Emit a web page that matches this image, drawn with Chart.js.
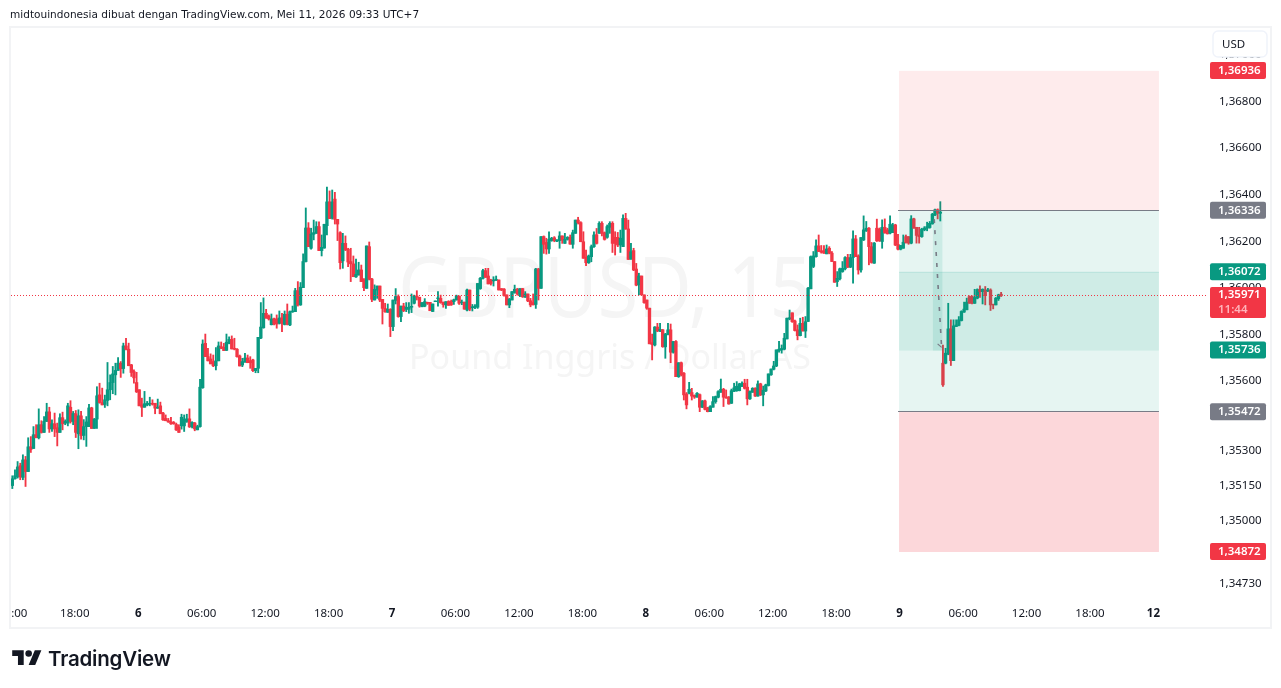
<!DOCTYPE html>
<html><head><meta charset="utf-8">
<script src="https://cdn.jsdelivr.net/npm/chart.js@4/dist/chart.umd.min.js"></script>
<style>
html,body{margin:0;padding:0;background:#fff;width:1281px;height:688px;overflow:hidden}
#panel{position:absolute;left:9px;top:26px;width:1263px;height:603px;box-sizing:border-box;border:2px solid #f2f3f5}
#c{position:absolute;left:0;top:0}
#title{position:absolute;left:10px;top:8px;font:10.55px "DejaVu Sans",sans-serif;color:#131722;white-space:nowrap}
#logo{position:absolute;left:12px;top:647px}
#brand{position:absolute;left:48px;top:646px;font:600 20.5px Inter,sans-serif;color:#131722;letter-spacing:-.2px}
</style></head><body>
<div id="panel"></div>
<canvas id="c" width="1281" height="688"></canvas>
<div id="title">midtouindonesia dibuat dengan TradingView.com, Mei 11, 2026 09:33 UTC+7</div>
<svg id="logo" width="30" height="23" viewBox="0 0 36 28"><path fill="#131722" d="M14 22H7V11H0V4h14v18zM28 22h-8l7.5-18h8L28 22z"/><circle fill="#131722" cx="20" cy="8" r="4"/></svg>
<div id="brand">TradingView</div>
<script>
// Prices in points (1e-5), GBPUSD 15m candles
const opens=[
135157,135186,135194,135242,135192,135267,135217,135323,135316,135375,135362,135418,135385,135432,135473,135400,135422,135405,135385,135448,135425,135425,135493,135432,135465,
135379,135456,135372,135410,135410,135490,135402,135442,135546,135513,135505,135522,135568,135599,135632,135651,135682,135659,135756,135742,135675,135646,135599,135568,135503,
135493,135503,135507,135510,135510,135489,135499,135468,135445,135435,135430,135428,135419,135408,135413,135413,135432,135443,135409,135425,135396,135410,135577,135767,135710,
135700,135689,135671,135692,135753,135750,135737,135767,135784,135746,135742,135713,135674,135686,135704,135693,135696,135650,135660,135790,135834,135896,135885,135847,135872,
135872,135853,135876,135848,135892,135846,135902,135903,135993,135932,136006,136118,136262,136175,136235,136239,136268,136165,136176,136272,136374,136304,136386,136299,136242,
136121,136196,136171,136118,136108,136052,136060,136082,136039,136003,136182,136043,135953,135996,136013,135956,135917,135900,135913,135839,135951,135968,135882,135927,135913,
135913,135922,135939,135970,135965,135924,135927,135943,135943,135904,135946,135959,135960,135944,135932,135947,135947,135946,135953,135970,135942,135944,135910,135996,135920,
135922,135922,136002,136046,136079,136056,136039,136035,136037,136039,136002,136000,135975,135932,135953,135985,135999,135974,136002,135965,135979,135950,135942,135934,136086,
136003,136225,136200,136172,136208,136220,136205,136208,136228,136196,136213,136222,136192,136239,136296,136285,136203,136136,136113,136139,136182,136233,136239,136282,136242,
136222,136265,136282,136222,136222,136189,136182,136303,136258,136129,136165,136086,136018,136056,135975,135953,135918,135770,135760,135837,135820,135825,135752,135806,135825,
135729,135775,135624,135684,135639,135550,135553,135556,135544,135536,135547,135493,135520,135491,135474,135493,135517,135536,135557,135570,135537,135537,135510,135561,135564,
135564,135584,135596,135579,135529,135557,135574,135541,135593,135546,135563,135586,135632,135656,135670,135736,135739,135742,135786,135872,135898,135863,135825,135800,135853,
135820,135861,136001,136097,136139,136185,136164,136164,136151,136175,136154,136118,136032,136044,136075,136087,136135,136094,136135,136215,136142,136082,136211,136250,136261,
136182,136111,136261,136257,136204,136265,136254,136240,136242,136275,136192,136171,136175,136225,136225,136197,136301,136265,136232,136225,136254,136261,136264,136280,136318,
136340,136325,135682,135682,135721,135829,135693,135839,135844,135865,135901,135911,135968,135968,135939,135961,135999,135989,135996,135992,135996,135935,135932,135958,135978];
const closes=[
135186,135199,135237,135194,135267,135217,135323,135312,135375,135362,135418,135385,135432,135473,135400,135422,135400,135385,135448,135422,135432,135499,135432,135466,135385,
135456,135372,135410,135430,135490,135402,135442,135542,135513,135503,135525,135568,135599,135636,135651,135682,135658,135756,135742,135671,135642,135619,135559,135499,135493,
135508,135510,135510,135506,135489,135493,135465,135439,135435,135430,135422,135422,135396,135385,135450,135442,135443,135409,135428,135400,135410,135579,135764,135710,135692,
135679,135671,135692,135756,135746,135736,135772,135784,135743,135742,135710,135670,135689,135704,135684,135684,135650,135660,135793,135837,135896,135875,135872,135872,135850,
135850,135876,135853,135892,135848,135903,135906,135993,135932,136008,136118,136262,136182,136236,136242,136268,136165,136179,136278,136374,136302,136374,136299,136279,136113,
136196,136168,136116,136108,136053,136063,136082,136032,136006,136185,136042,135956,135999,136013,135953,135917,135903,135913,135839,135953,135968,135882,135927,135907,135922,
135922,135926,135970,135966,135927,135942,135946,135939,135907,135936,135949,135962,135942,135933,135946,135930,135932,135954,135970,135939,135944,135914,135996,135914,135924,
135927,136024,136046,136079,136050,136022,136024,136039,136042,135996,135996,135972,135932,135957,135989,135999,135979,136002,135967,135979,135949,135932,135932,136086,136003,
136225,136192,136172,136213,136218,136208,136210,136228,136210,136213,136222,136193,136242,136296,136285,136203,136132,136113,136142,136182,136232,136196,136282,136239,136213,
136268,136282,136196,136196,136189,136218,136303,136258,136127,136160,136082,136017,136056,135975,135942,135918,135765,135762,135837,135820,135827,135753,135807,135825,135729,
135775,135624,135684,135632,135546,135503,135570,135541,135537,135553,135493,135520,135484,135474,135496,135517,135539,135560,135570,135536,135533,135507,135564,135576,135583,
135593,135596,135574,135529,135560,135574,135541,135593,135546,135566,135589,135636,135657,135670,135739,135742,135745,135789,135875,135877,135860,135822,135800,135853,135820,
135860,136004,136139,136142,136185,136161,136158,136154,136172,136154,136118,136029,136046,136087,136089,136135,136094,136135,136215,136139,136082,136221,136254,136261,136182,
136114,136197,136207,136207,136265,136242,136237,136278,136275,136189,136171,136187,136201,136200,136197,136301,136261,136230,136225,136257,136262,136268,136282,136321,136340,
136325,136330,135589,135725,135829,135693,135842,135846,135868,135904,135914,135944,135939,135939,135964,135998,135989,135999,135972,135996,135932,135932,135961,135975,135971];
const highs=[
135199,135224,135260,135253,135289,135282,135362,135367,135410,135418,135486,135435,135453,135510,135493,135439,135468,135425,135465,135472,135439,135510,135521,135475,135479,
135482,135475,135440,135453,135505,135493,135445,135581,135596,135575,135545,135685,135632,135668,135682,135706,135689,135768,135789,135768,135677,135653,135643,135568,135532,
135561,135518,135536,135525,135510,135528,135515,135471,135460,135445,135450,135432,135425,135418,135463,135460,135463,135486,135431,135428,135416,135613,135782,135807,135746,
135722,135717,135749,135773,135773,135767,135807,135795,135799,135789,135745,135717,135703,135724,135717,135710,135699,135660,135793,135942,135962,135913,135889,135893,135875,
135889,135906,135896,135906,135936,135906,135927,136003,136032,136028,136151,136348,136285,136261,136296,136289,136288,136232,136278,136437,136421,136425,136415,136299,136246,
136239,136228,136175,136175,136142,136129,136115,136103,136045,136185,136202,136046,136018,136013,136013,135956,135939,135936,135916,135953,136002,135975,135927,135939,135942,
135942,135979,135974,135993,135965,135942,135959,135944,135943,135936,135949,135989,135974,135944,135946,135950,135953,135957,135974,135970,135953,135944,136000,135996,135934,
135933,136024,136050,136085,136089,136089,136042,136053,136056,136039,136002,136002,135975,135960,135989,136017,136003,136002,136003,135989,135979,135960,135979,136089,136089,
136225,136228,136218,136246,136222,136225,136212,136246,136228,136239,136225,136232,136253,136296,136308,136289,136246,136167,136146,136189,136246,136260,136289,136289,136245,
136275,136289,136289,136246,136243,136253,136318,136325,136296,136196,136175,136110,136068,136056,135975,135953,135918,135807,135839,135853,135853,135827,135810,135853,135850,
135775,135779,135684,135687,135642,135556,135600,135574,135546,135556,135550,135522,135524,135493,135500,135539,135541,135564,135614,135574,135567,135539,135571,135596,135603,
135596,135602,135613,135613,135563,135577,135577,135606,135596,135584,135592,135636,135657,135690,135739,135776,135760,135810,135875,135910,135898,135867,135846,135875,135879,
135882,136007,136142,136161,136211,136232,136187,136187,136189,136182,136161,136118,136075,136090,136118,136139,136149,136149,136250,136230,136147,136221,136314,136290,136264,
136200,136200,136300,136262,136297,136301,136261,136314,136282,136278,136235,136187,136232,136232,136225,136315,136304,136265,136265,136261,136268,136287,136290,136325,136343,
136344,136375,135760,135746,135939,135868,135868,135868,135882,135907,135944,135961,135971,135971,135999,136001,136014,136001,136011,136003,136001,135935,135964,135978,135986];
const lows=[
135144,135184,135189,135182,135182,135153,135217,135299,135316,135362,135357,135382,135385,135432,135385,135389,135367,135327,135385,135396,135418,135413,135425,135418,135363,
135315,135356,135353,135325,135410,135402,135402,135402,135510,135503,135492,135499,135525,135551,135546,135651,135621,135639,135739,135671,135625,135596,135556,135499,135453,
135493,135499,135499,135502,135465,135488,135465,135436,135435,135428,135419,135420,135393,135385,135399,135389,135428,135406,135404,135392,135396,135408,135574,135710,135692,
135679,135667,135653,135692,135744,135736,135736,135765,135743,135739,135708,135670,135667,135686,135684,135660,135646,135641,135641,135787,135832,135875,135867,135846,135846,
135832,135850,135817,135846,135846,135843,135900,135903,135927,135930,136006,136116,136182,136171,136211,136239,136165,136142,136175,136232,136302,136300,136279,136208,136086,
136089,136165,136096,136032,136053,136050,136060,136032,135993,136003,136039,135946,135953,135960,135946,135850,135900,135900,135796,135822,135936,135879,135860,135903,135903,
135896,135899,135936,135953,135922,135924,135924,135934,135907,135903,135946,135927,135939,135922,135917,135930,135930,135934,135953,135934,135933,135913,135906,135907,135906,
135916,135917,135999,136043,136050,136022,136017,136013,136037,135996,135993,135970,135932,135920,135953,135982,135974,135967,135964,135964,135946,135924,135932,135917,135953,
136003,136153,136150,136153,136205,136203,136203,136175,136196,136196,136210,136192,136175,136239,136279,136203,136132,136100,136110,136117,136179,136193,136239,136228,136210,
136218,136239,136157,136146,136182,136157,136182,136256,136127,136127,136079,136014,135975,135975,135939,135913,135765,135696,135756,135817,135817,135750,135703,135803,135684,
135725,135624,135621,135627,135524,135486,135550,135524,135531,135536,135474,135491,135481,135473,135474,135493,135510,135533,135557,135496,135531,135506,135509,135560,135561,
135563,135581,135571,135503,135527,135557,135539,135540,135543,135499,135560,135584,135630,135653,135667,135729,135725,135739,135786,135868,135857,135820,135782,135799,135820,
135792,135861,136001,136092,136137,136161,136154,136153,136151,136151,136118,136029,136011,136039,136072,136082,136092,136092,136025,136139,136064,136072,136208,136247,136104,
136111,136110,136204,136204,136175,136239,136236,136237,136242,136186,136168,136168,136175,136197,136192,136194,136261,136197,136197,136222,136250,136250,136261,136278,136315,
136301,136292,135582,135679,135718,135672,135693,135839,135842,135863,135900,135911,135939,135936,135938,135958,135964,135936,135932,135989,135908,135915,135932,135951,135968];

const timeTickIndex=[3,24,48,72,96,120,144,168,192,216,240,264,288,312,336,360,384,408,432];
const timeTickLabels=[":00","18:00","6","06:00","12:00","18:00","7","06:00","12:00","18:00","8","06:00","12:00","18:00","9","06:00","12:00","18:00","12"];
const dayLabels=["6","7","8","9","12"];
const slotCount=452;
const priceTicks=[137000,136800,136600,136400,136200,136000,135800,135600,135450,135300,135150,135000,134730];
const targetTop=136936, entryUpper=136336, zoneUpper=136072, lastPrice=135971, zoneLower=135736, entryLower=135472, stopBottom=134872;
const positionStart=335.4, positionEnd=433.7;
const arrowFrom=[348.7,136300], arrowTo=[351.5,135750];
const arrowBand=[348.2,351.8];
const priceLabels=[
 [targetTop,"#F23645"],[entryUpper,"#787B86"],[zoneUpper,"#089981"],[zoneLower,"#089981"],[entryLower,"#787B86"],[stopBottom,"#F23645"]];
const countdown="11:44";
const GREEN="#089981",RED="#F23645",INK="#131722";
const FONT='"Noto Sans",sans-serif';
const categories=Array.from({length:slotCount},(_,i)=>{const k=timeTickIndex.indexOf(i);return k>=0?timeTickLabels[k]:"";});
const fmt=v=>(v/1e5).toFixed(5).replace(".",",");
const cols=closes.map((c,i)=>c>=opens[i]?GREEN:RED);

function rr(ctx,x,y,w,h,r){ctx.beginPath();ctx.roundRect(x,y,w,h,r);}

const watermark={id:"watermark",beforeDatasetsDraw(ch){
 const c=ch.ctx;c.save();c.fillStyle="#f5f5f5";c.textAlign="center";c.textBaseline="alphabetic";
 c.save();c.translate(605,317);c.scale(.875,1);
 c.font='84px "Noto Sans",sans-serif';c.fillText("GBPUSD, 15",0,0);c.restore();
 c.font='34px "Noto Sans",sans-serif';c.fillText("Pound Inggris / Dollar AS",610,369);
 c.restore();}};

const overlay={id:"overlay",afterDraw(ch){
 const c=ch.ctx,xs=ch.scales.x,ys=ch.scales.y;
 const X=v=>xs.getPixelForValue(v),Y=v=>ys.getPixelForValue(v);
 const L=X(positionStart),R=X(positionEnd);
 c.save();
 const band=(a,b,col)=>{c.fillStyle=col;c.fillRect(L,Y(a),R-L,Y(b)-Y(a));};
 band(targetTop,entryUpper,"rgba(242,54,69,.10)");
 band(entryUpper,entryLower,"rgba(8,153,129,.10)");
 band(zoneUpper,zoneLower,"rgba(8,153,129,.10)");
 band(entryLower,stopBottom,"rgba(242,54,69,.20)");
 c.strokeStyle="rgba(8,153,129,.16)";c.lineWidth=1;
 c.beginPath();c.moveTo(L,Y(zoneUpper));c.lineTo(R,Y(zoneUpper));c.stroke();
 c.strokeStyle="#787B86";c.lineWidth=1;
 [entryUpper,entryLower].forEach(p=>{const y=Math.round(Y(p))-.5;c.beginPath();c.moveTo(L-1,y);c.lineTo(R,y);c.stroke();});
 // arrow drawing
 c.fillStyle="rgba(8,153,129,.12)";
 c.fillRect(X(arrowBand[0]),Y(entryUpper),X(arrowBand[1])-X(arrowBand[0]),Y(zoneLower)-Y(entryUpper));
 c.strokeStyle="#787B86";c.lineWidth=1.6;c.setLineDash([4,7]);
 c.beginPath();c.moveTo(X(arrowFrom[0]),Y(arrowFrom[1]));c.lineTo(X(arrowTo[0]),Y(arrowTo[1]));c.stroke();
 c.setLineDash([]);c.lineWidth=1.2;
 c.beginPath();c.moveTo(X(arrowTo[0])-4,Y(arrowTo[1])-3.5);c.lineTo(X(arrowTo[0]),Y(arrowTo[1]));c.stroke();
 // last price line
 const py=Math.round(Y(lastPrice))-.5;
 c.strokeStyle=RED;c.lineWidth=1;c.setLineDash([1,2]);
 c.beginPath();c.moveTo(11,py);c.lineTo(1208,py);c.stroke();c.setLineDash([]);
 // axis price labels
 c.textAlign="left";c.textBaseline="middle";
 const bx=1210,bw=56;
 const tag=(y,h,col)=>{c.fillStyle=col;rr(c,bx,y,bw,h,2);c.fill();};
 priceLabels.forEach(([p,col])=>{const y=Y(p)-.5;tag(y-8.5,17,col);c.fillStyle="#fff";c.font='600 11.5px '+FONT;c.fillText(fmt(p),1218,y);});
 tag(287,31,RED);
 c.fillStyle="#fff";c.font='600 11.5px '+FONT;c.fillText(fmt(lastPrice),1218,295);
 c.fillStyle="#ffb3ba";c.fillText(countdown,1218,310);
 // currency button
 c.fillStyle="#fff";c.strokeStyle="#f0f3fa";c.lineWidth=1.5;
 rr(c,1213,31,54,26,5);c.fill();c.stroke();
 c.fillStyle=INK;c.font='11.5px '+FONT;c.fillText("USD",1222,44.5);
 c.restore();
}};

new Chart(document.getElementById("c"),{
 type:"bar",
 data:{labels:categories,datasets:[
  {label:"Tubuh",data:opens.map((o,i)=>[o,closes[i]]),backgroundColor:cols,barThickness:2.7,grouped:false,borderWidth:0,borderSkipped:false},
  {label:"Sumbu",data:lows.map((l,i)=>[l,highs[i]]),backgroundColor:cols,barThickness:1.2,grouped:false,borderWidth:0,borderSkipped:false}
 ]},
 options:{responsive:false,animation:false,devicePixelRatio:1,
  layout:{padding:{left:11,top:28,right:10,bottom:60}},
  plugins:{legend:{display:false},tooltip:{enabled:false},title:{display:false}},
  scales:{
   x:{type:"category",offset:true,grid:{display:false,drawTicks:false},border:{display:false},
    afterBuildTicks:s=>{s.ticks=timeTickIndex.map(i=>({value:i,label:categories[i]}));},
    afterFit:s=>{s.height=28;},
    ticks:{autoSkip:false,maxRotation:0,minRotation:0,padding:7,labelOffset:-1,color:INK,
     callback(v){return categories[v];},
     font:ctx=>({family:FONT,size:11.5,weight:dayLabels.includes(ctx.tick&&ctx.tick.label)?"bold":"normal"})}},
   y:{type:"linear",position:"right",min:134666,max:137120,grid:{display:false,drawTicks:false},border:{display:false},
    afterBuildTicks:s=>{s.ticks=priceTicks.map(v=>({value:v}));},
    afterFit:s=>{s.width=65;},
    ticks:{padding:13,labelOffset:-1.2,color:INK,font:{family:FONT,size:11.5},callback:v=>fmt(v)}}
  }},
 plugins:[watermark,overlay]
});
</script>
</body></html>
